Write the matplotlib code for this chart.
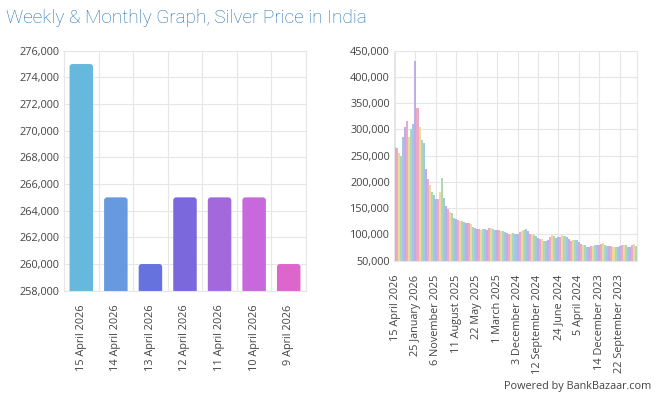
import matplotlib
matplotlib.use("Agg")
import matplotlib.pyplot as plt
from matplotlib.patches import FancyBboxPatch
from matplotlib.ticker import FuncFormatter, MultipleLocator

# ---------------- data ----------------
weekly_dates = ["15 April 2026", "14 April 2026", "13 April 2026", "12 April 2026",
                "11 April 2026", "10 April 2026", "9 April 2026"]
weekly_prices = [275000, 265000, 260000, 265000, 265000, 265000, 260000]
weekly_colors = ["#66b8dd", "#6699dd", "#6672dd", "#7c68dd", "#a468dd", "#c868dd", "#dd66cc"]

history_prices = [
    267000, 265000, 255000, 250000, 285000, 305000, 316000, 285000, 300000, 310000,
    430000, 340000, 305000, 280000, 275000, 225000, 205000, 195000, 180000, 175000,
    168000, 168000, 180000, 207000, 170000, 155000, 148000, 143000, 140000, 132000,
    130000, 127000, 126000, 126000, 124000, 122000, 121000, 120000, 115000, 112000,
    110000, 110000, 109000, 111000, 110000, 108000, 113000, 112000, 110000, 108000,
    109000, 108000, 107000, 106000, 104000, 103000, 101000, 100000, 102000, 100000,
    101000, 104000, 106000, 108000, 110000, 107000, 101000, 100000, 98000, 97000,
    93000, 92000, 91000, 88000, 88000, 90000, 96000, 98000, 97000, 94000,
    95000, 96000, 98000, 97000, 95000, 92000, 88000, 89000, 90000, 89000,
    85000, 82000, 80000, 79000, 77000, 77000, 78000, 78000, 80000, 80000,
    79000, 82000, 83000, 80000, 78000, 78000, 78000, 77000, 76000, 77000,
    78000, 79000, 80000, 79000, 77000, 77000, 79000, 81000, 78000,
]
history_tick_labels = ["15 April 2026", "25 January 2026", "6 November 2025", "11 August 2025",
                       "22 May 2025", "1 March 2025", "3 December 2024", "12 September 2024",
                       "24 June 2024", "5 April 2024", "14 December 2023", "22 September 2023"]
history_palette = ["#bfaee6", "#eeaac4", "#ead9a0", "#acd8b4", "#a2c6e6"]

# ---------------- style ----------------
plt.rcParams['font.family'] = ['Open Sans', 'DejaVu Sans']
grid_c = "#e6e6e6"
tick_c = "#444444"

fig = plt.figure(figsize=(6.6, 3.97), dpi=100)
fig.patch.set_facecolor("white")

fig.text(6 / 660, 1 - 18 / 397, "Weekly & Monthly Graph, Silver Price in India",
         fontsize=13.7, color="#1f6fb2", family="Roboto", fontweight="light",
         ha="left", va="center")

fmt = FuncFormatter(lambda v, p: f"{int(round(v)):,}")


def style_axes(ax):
    for s in ax.spines.values():
        s.set_color(grid_c)
        s.set_linewidth(0.8)
    ax.tick_params(axis="both", length=0, colors=tick_c, labelsize=7.8)
    ax.tick_params(axis="y", pad=3)
    ax.tick_params(axis="x", pad=10)
    ax.set_axisbelow(True)


# ---------------- left chart ----------------
ax1 = fig.add_axes([64 / 660, 1 - 290.7 / 397, 242 / 660, 240 / 397])
n = len(weekly_prices)
xs = list(range(n))
bars = ax1.bar(xs, weekly_prices, width=0.68, color=weekly_colors, zorder=2)
ax1.set_xlim(-0.5, n - 0.5)
ax1.set_ylim(258000, 276000)
ax1.yaxis.set_major_locator(MultipleLocator(2000))
ax1.yaxis.set_major_formatter(fmt)
ax1.set_xticks(xs)
ax1.set_xticklabels(weekly_dates, rotation=90)
ax1.set_xticks([i + 0.5 for i in range(-1, n)], minor=True)
ax1.tick_params(axis="x", which="minor", length=0)
ax1.grid(True, axis="y", color=grid_c, linewidth=0.8)
ax1.grid(True, axis="x", which="minor", color=grid_c, linewidth=0.8)
style_axes(ax1)

# rounded top corners for the weekly bars (derived from the bar geometry)
fig.canvas.draw()
bbox = ax1.get_window_extent()
px_per_x = bbox.width / (n)
px_per_y = bbox.height / (276000 - 258000)
radius_px = 3.0
for rect in bars:
    x0, y0 = rect.get_x(), rect.get_y()
    w, h = rect.get_width(), rect.get_height()
    patch = FancyBboxPatch((x0, y0), w, h,
                           boxstyle=f"round,pad=0,rounding_size={radius_px / px_per_x}",
                           mutation_aspect=px_per_x / px_per_y,
                           facecolor=rect.get_facecolor(), edgecolor="none", zorder=2)
    rect.set_visible(False)
    ax1.add_patch(patch)

# ---------------- right chart ----------------
ax2 = fig.add_axes([394 / 660, 1 - 260.7 / 397, 243 / 660, 210 / 397])
m = len(history_prices)
hx = list(range(m))
hcolors = [history_palette[i % len(history_palette)] for i in hx]
ax2.bar(hx, history_prices, width=1.0, color=hcolors, linewidth=0, zorder=2)
step = 10
ax2.set_xlim(-0.5, m - 0.5)
ax2.set_ylim(50000, 450000)
ax2.yaxis.set_major_locator(MultipleLocator(50000))
ax2.yaxis.set_major_formatter(fmt)
ax2.set_xticks([i * step for i in range(len(history_tick_labels))])
ax2.set_xticklabels(history_tick_labels, rotation=90)
ax2.grid(True, axis="both", color=grid_c, linewidth=0.8)
style_axes(ax2)

fig.text(651 / 660, 1 - 386.5 / 397, "Powered by BankBazaar.com", fontsize=7.8,
         color="#444444", ha="right", va="center")

fig.savefig("out.png", dpi=100, facecolor="white")
